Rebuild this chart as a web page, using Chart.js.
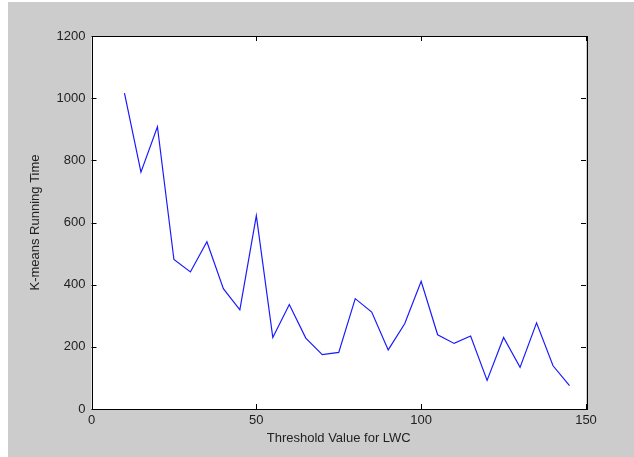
<!DOCTYPE html>
<html lang="en">
<head>
    <meta charset="UTF-8">
    <title>K-means Running Time</title>
    <script src="https://cdn.jsdelivr.net/npm/chart.js"></script>
    <style>
        body { margin: 0; background: #fff; }
        #runChart { position: absolute; left: 8px; top: 2px; background: #cccccc; }
    </style>
</head>
<body>
    <canvas id="runChart" width="626" height="455"></canvas>

    <script>
        // threshold values (x) and running times (y)
        const thresholds = [10, 15, 20, 25, 30, 35, 40, 45, 50, 55, 60, 65, 70, 75, 80,
                            85, 90, 95, 100, 105, 110, 115, 120, 125, 130, 135, 140, 145];
        const runTimes = [1016, 762, 908, 481, 441, 538, 387, 319, 622, 230, 336, 228, 175, 182, 355,
                          312, 190, 274, 411, 239, 211, 235, 92, 230, 134, 277, 139, 75];
        const xTicks = [0, 50, 100, 150];
        const yTicks = [0, 200, 400, 600, 800, 1000, 1200];

        const font = { family: '"Liberation Sans", Arial, sans-serif', size: 13 };
        const textColor = '#222';

        // white axes box, black frame and matlab-style inward ticks
        const axesBox = {
            id: 'axesBox',
            beforeDraw(chart) {
                const { ctx, chartArea: a } = chart;
                ctx.save();
                ctx.fillStyle = '#fff';
                ctx.fillRect(a.left, a.top, a.right - a.left, a.bottom - a.top);
                ctx.restore();
            },
            afterDraw(chart) {
                const { ctx, chartArea: a } = chart;
                const xs = chart.scales.x, ys = chart.scales.y;
                const len = 5;
                ctx.save();
                ctx.strokeStyle = '#000';
                ctx.lineWidth = 1;
                ctx.strokeRect(Math.round(a.left) + 0.5, Math.round(a.top) + 0.5,
                    Math.round(a.right - a.left), Math.round(a.bottom - a.top));
                ctx.beginPath();
                xs.ticks.forEach(t => {
                    const px = Math.round(xs.getPixelForValue(t.value)) + 0.5;
                    ctx.moveTo(px, a.bottom); ctx.lineTo(px, a.bottom - len);
                    ctx.moveTo(px, a.top); ctx.lineTo(px, a.top + len);
                });
                ys.ticks.forEach(t => {
                    const py = Math.round(ys.getPixelForValue(t.value)) + 0.5;
                    ctx.moveTo(a.left, py); ctx.lineTo(a.left + len, py);
                    ctx.moveTo(a.right, py); ctx.lineTo(a.right - len, py);
                });
                ctx.stroke();
                ctx.restore();
            }
        };

        new Chart(document.getElementById('runChart'), {
            type: 'line',
            data: {
                datasets: [{
                    data: thresholds.map((x, i) => ({ x: x, y: runTimes[i] })),
                    borderColor: '#1a1aff',
                    borderWidth: 1.2,
                    pointRadius: 0,
                    tension: 0,
                    fill: false
                }]
            },
            options: {
                responsive: false,
                animation: false,
                layout: { padding: { top: 34, right: 48, left: 0, bottom: 0 } },
                plugins: { legend: { display: false }, tooltip: { enabled: false } },
                scales: {
                    x: {
                        type: 'linear',
                        min: 0, max: 150,
                        afterBuildTicks: s => { s.ticks = xTicks.map(v => ({ value: v })); },
                        afterFit: s => { s.height = 48; },
                        grid: { display: false, drawTicks: false },
                        border: { display: false },
                        ticks: { font: font, color: textColor, padding: 4, maxRotation: 0,
                                 callback: v => String(v) },
                        title: {
                            display: true,
                            text: 'Threshold Value for LWC',
                            font: font, color: textColor,
                            padding: { top: 0, bottom: 11 }
                        }
                    },
                    y: {
                        min: 0, max: 1200,
                        afterBuildTicks: s => { s.ticks = yTicks.map(v => ({ value: v })); },
                        afterFit: s => { s.width = 83.5; },
                        grid: { display: false, drawTicks: false },
                        border: { display: false },
                        ticks: { font: font, color: textColor, padding: 6,
                                 callback: v => String(v) },
                        title: {
                            display: true,
                            text: 'K-means Running Time',
                            font: font, color: textColor,
                            padding: { top: 20, bottom: 0 }
                        }
                    }
                }
            },
            plugins: [axesBox]
        });
    </script>
</body>
</html>
